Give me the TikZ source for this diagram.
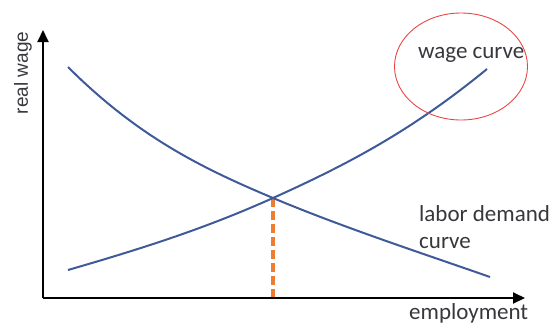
\documentclass[tikz,border=0pt]{standalone}
\usepackage{fontspec}
\setmainfont{Carlito}
\newfontfamily\arialfont{Liberation Sans}
\usepackage{xcolor}
\usepackage{tikz}
\usetikzlibrary{arrows.meta}

\definecolor{curveblue}{RGB}{63,90,152}
\definecolor{eqorange}{RGB}{237,125,49}
\definecolor{ringred}{RGB}{232,70,70}
\definecolor{labelgray}{RGB}{55,55,60}

\begin{document}
\begin{tikzpicture}[x=1pt, y=-1pt,
  axis/.style={line width=2pt, -{Triangle[length=12pt,width=11pt]}},
  curve/.style={curveblue, line width=2pt},
  lbl/.style={labelgray, inner sep=0pt, font=\fontsize{23}{27}\selectfont}]
\useasboundingbox (0,0) rectangle (558,327);
% axes
\coordinate (O) at (43,298);
\coordinate (ytip) at (43,30);
\coordinate (xtip) at (525,298);
\coordinate (E) at (273,198);
\coordinate (d0) at (68,67);
\coordinate (d1) at (490,277);
\coordinate (w0) at (68,270);
\coordinate (w1) at (487,69);
\draw[eqorange, line width=3.5pt, dash pattern=on 9pt off 4pt] (E) -- (E |- O);
% labor demand curve
\draw[curve] (d0) .. controls (138,137) and (203,168.6) .. (E)
  .. controls (343,227.4) and (420,252.5) .. (d1);
% wage curve
\draw[curve] (w0) .. controls (138,249.7) and (203,229.5) .. (E)
  .. controls (348,164.25) and (412,130.5) .. (w1);
\draw[axis] (O) -- (ytip);
\draw[axis] (O) -- (xtip);
% circle round the label
\coordinate (ring) at (461,66.5);
\draw[ringred, line width=0.9pt] (ring) ellipse [x radius=66.5, y radius=53.5];
\node[labelgray, rotate=90, inner sep=0pt, font=\arialfont\fontsize{19}{22}\selectfont] (ylab) at (23,73) {real wage};
\node[lbl, anchor=base west] (xlab) at (409,319) {employment};
\node[lbl, anchor=base west] (wlab) at (418,58) {wage curve};
\node[lbl, anchor=north west, align=left] (dlab) at (419,205) {labor demand\\curve};
\end{tikzpicture}
\end{document}
